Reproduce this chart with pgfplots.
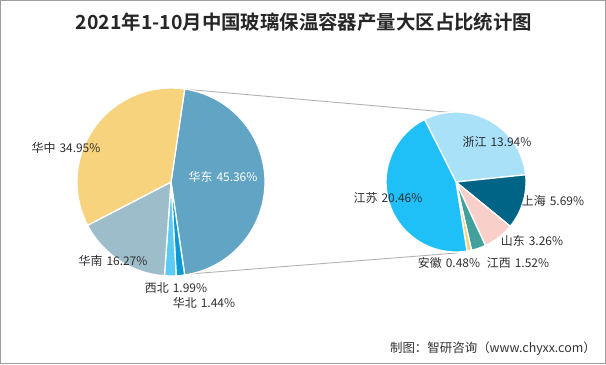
\documentclass[border=0pt]{standalone}
\usepackage{pgfplots}
\pgfplotsset{compat=1.18}
\usepackage{fontspec}
\setmainfont{Noto Sans CJK SC}
\newfontfamily\titlefont{Noto Sans CJK SC}[BoldFont={* Bold}]
\definecolor{cHD}{HTML}{62A4C3}
\definecolor{cHB}{HTML}{0A9AD6}
\definecolor{cXB}{HTML}{5CCBF3}
\definecolor{cHN}{HTML}{9EBDCB}
\definecolor{cHZ}{HTML}{F6D37C}
\definecolor{cZJ}{HTML}{A9E1F9}
\definecolor{cSH}{HTML}{006487}
\definecolor{cSD}{HTML}{F8D0C9}
\definecolor{cJX}{HTML}{42A29B}
\definecolor{cAH}{HTML}{F6D27F}
\definecolor{cJS}{HTML}{1FC0F8}
\definecolor{txt}{HTML}{2E2E33}
% slice: cx, cy, r, start angle, sweep (negative = clockwise), colour
\newcommand{\slice}[6]{%
  \fill[#6, draw=white, line width=1.3bp, line join=round]
    (axis cs:#1,#2) -- ++({#4}:#3) arc[start angle={#4}, delta angle={#5}, radius=#3] -- cycle;}
\newcommand{\sep}{\hspace{4bp}}
\begin{document}
\begin{tikzpicture}
\begin{axis}[x=1bp, y=1bp, xmin=0, xmax=606, ymin=0, ymax=364,
  hide axis, clip=false, scale only axis]
\addplot[draw=none] coordinates {(0,0) (606,364)};
% frame
\draw[color=black!38, line width=1bp] (axis cs:0.5,0.5) rectangle (axis cs:605.5,363.5);
% title
\node[font=\titlefont\bfseries\fontsize{19.5}{22}\selectfont, text=black!85] at (axis cs:304,342)
  {2021年1-10月中国玻璃保温容器产量大区占比统计图};
% connector lines
\draw[color=black!30, line width=0.9bp] (axis cs:183,275) -- (axis cs:457,251);
\draw[color=black!30, line width=0.9bp] (axis cs:183,89.5) -- (axis cs:457,111);
% main pie: 华东 45.36, 华北 1.44, 西北 1.99, 华南 16.27, 华中 34.95 (clockwise)
\slice{171}{182}{94bp}{81.65}{-3.6*45.36}{cHD}
\slice{171}{182}{94bp}{81.65-3.6*45.36}{-3.6*1.44}{cHB}
\slice{171}{182}{94bp}{81.65-3.6*(45.36+1.44)}{-3.6*1.99}{cXB}
\slice{171}{182}{94bp}{81.65-3.6*(45.36+1.44+1.99)}{-3.6*16.27}{cHN}
\slice{171}{182}{94bp}{81.65-3.6*(45.36+1.44+1.99+16.27)}{-3.6*34.95}{cHZ}
% secondary pie (share of 华东 45.35): 浙江 13.94, 上海 5.69, 山东 3.26, 江西 1.52, 安徽 0.48, 江苏 20.46
\slice{456}{182}{70bp}{116.6}{-360*13.94/45.35}{cZJ}
\slice{456}{182}{70bp}{116.6-360*13.94/45.35}{-360*5.69/45.35}{cSH}
\slice{456}{182}{70bp}{116.6-360*(13.94+5.69)/45.35}{-360*3.26/45.35}{cSD}
\slice{456}{182}{70bp}{116.6-360*(13.94+5.69+3.26)/45.35}{-360*1.52/45.35}{cJX}
\slice{456}{182}{70bp}{116.6-360*(13.94+5.69+3.26+1.52)/45.35}{-360*0.48/45.35}{cAH}
\slice{456}{182}{70bp}{116.6-360*(13.94+5.69+3.26+1.52+0.48)/45.35}{-360*20.46/45.35}{cJS}
% labels
\begin{scope}[every node/.style={font=\fontsize{12}{14}\selectfont, text=txt, inner sep=0pt}]
\node at (axis cs:66,216) {华中\sep 34.95\%};
\node[text=white] at (axis cs:223,187) {华东\sep 45.36\%};
\node at (axis cs:113,103) {华南\sep 16.27\%};
\node at (axis cs:176,76) {西北\sep 1.99\%};
\node at (axis cs:204,61) {华北\sep 1.44\%};
\node at (axis cs:497,222) {浙江\sep 13.94\%};
\node at (axis cs:553,163) {上海\sep 5.69\%};
\node at (axis cs:532,123) {山东\sep 3.26\%};
\node at (axis cs:518,101) {江西\sep 1.52\%};
\node at (axis cs:449,101) {安徽\sep 0.48\%};
\node at (axis cs:388,166) {江苏\sep 20.46\%};
\end{scope}
% source
\node[anchor=east, font=\fontsize{12.5}{14}\selectfont, text=black!80, inner sep=0pt] at (axis cs:596,15)
  {制图：智研咨询（www.chyxx.com）};
\end{axis}
\end{tikzpicture}
\end{document}
